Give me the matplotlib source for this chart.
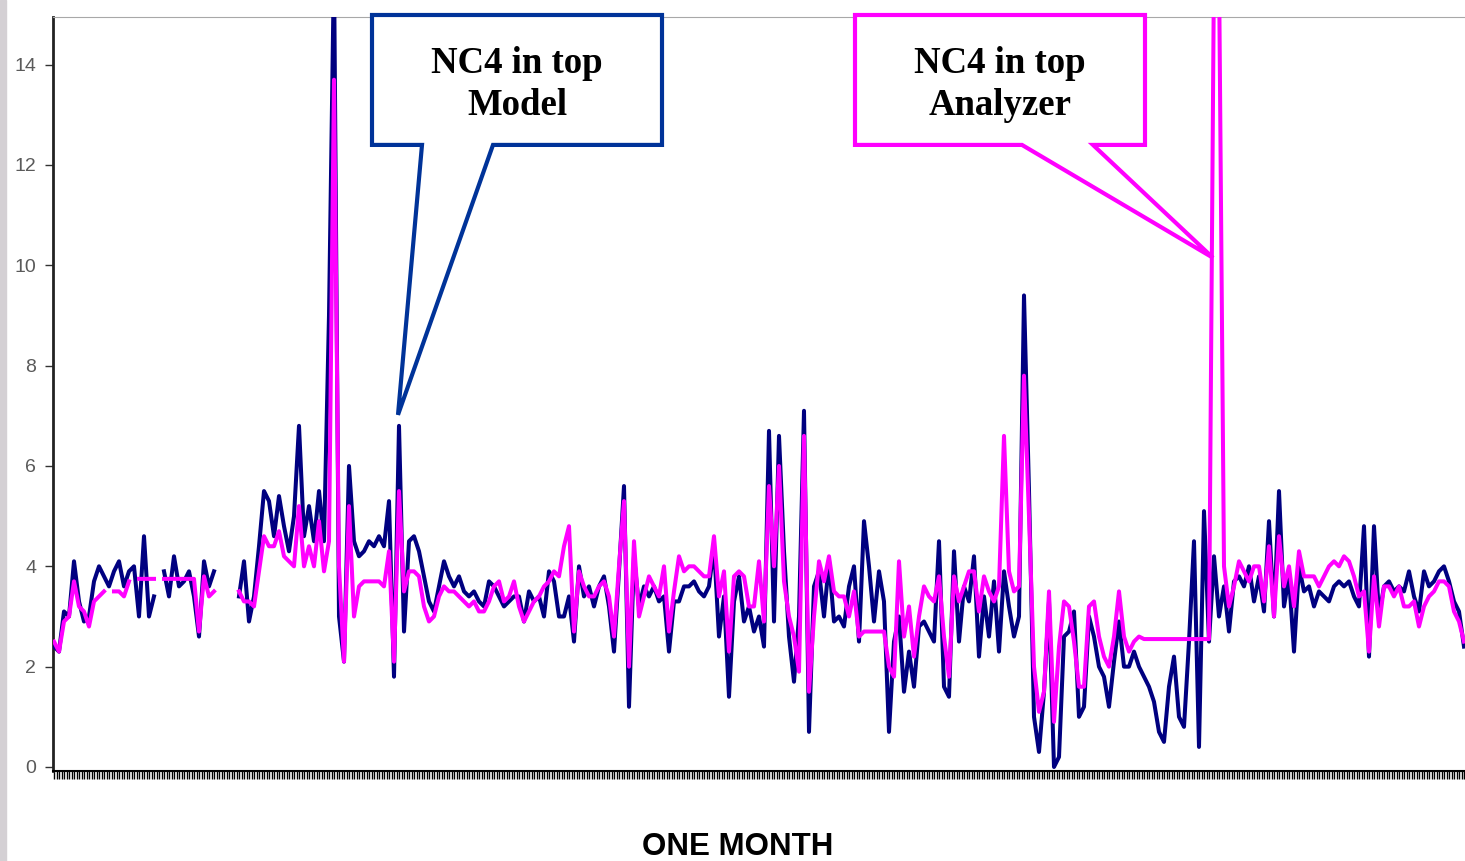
import numpy as np
import matplotlib.pyplot as plt
from matplotlib.patches import Polygon, Rectangle

nan = np.nan

# NC4 in top of column: model prediction vs. on-line analyzer, one month of samples
model = [
    2.4, 2.3, 3.1, 3.0, 4.1, 3.3, 2.9, 3.0, 3.7, 4.0,
    3.8, 3.6, 3.9, 4.1, 3.6, 3.9, 4.0, 3.0, 4.6, 3.0,
    3.4, nan, 3.9, 3.4, 4.2, 3.6, 3.7, 3.9, 3.4, 2.6,
    4.1, 3.6, 3.9, nan, nan, nan, nan, 3.4, 4.1, 2.9,
    3.4, 4.4, 5.5, 5.3, 4.6, 5.4, 4.8, 4.3, 5.0, 6.8,
    4.6, 5.2, 4.5, 5.5, 4.5, 9.0, 16.0, 3.0, 2.1, 6.0,
    4.5, 4.2, 4.3, 4.5, 4.4, 4.6, 4.4, 5.3, 1.8, 6.8,
    2.7, 4.5, 4.6, 4.3, 3.8, 3.3, 3.1, 3.6, 4.1, 3.8,
    3.6, 3.8, 3.5, 3.4, 3.5, 3.3, 3.2, 3.7, 3.6, 3.4,
    3.2, 3.3, 3.4, 3.4, 2.9, 3.5, 3.3, 3.4, 3.0, 3.9,
    3.7, 3.0, 3.0, 3.4, 2.5, 4.0, 3.4, 3.6, 3.2, 3.6,
    3.8, 3.2, 2.3, 3.9, 5.6, 1.2, 4.2, 3.2, 3.6, 3.4,
    3.6, 3.3, 3.4, 2.3, 3.3, 3.3, 3.6, 3.6, 3.7, 3.5,
    3.4, 3.6, 4.4, 2.6, 3.4, 1.4, 3.3, 3.8, 2.9, 3.2,
    2.7, 3.0, 2.4, 6.7, 2.9, 6.6, 4.3, 2.6, 1.7, 3.0,
    7.1, 0.7, 3.6, 3.9, 3.0, 4.1, 2.9, 3.0, 2.8, 3.6,
    4.0, 2.5, 4.9, 4.0, 2.9, 3.9, 3.3, 0.7, 2.5, 3.0,
    1.5, 2.3, 1.6, 2.8, 2.9, 2.7, 2.5, 4.5, 1.6, 1.4,
    4.3, 2.5, 3.6, 3.3, 4.2, 2.2, 3.4, 2.6, 3.7, 2.3,
    3.9, 3.2, 2.6, 3.0, 9.4, 5.5, 1.0, 0.3, 1.5, 3.3,
    0.0, 0.2, 2.6, 2.7, 3.1, 1.0, 1.2, 3.0, 2.6, 2.0,
    1.8, 1.2, 2.1, 2.9, 2.0, 2.0, 2.3, 2.0, 1.8, 1.6,
    1.3, 0.7, 0.5, 1.6, 2.2, 1.0, 0.8, 2.5, 4.5, 0.4,
    5.1, 2.5, 4.2, 3.0, 3.6, 2.7, 3.7, 3.8, 3.6, 4.0,
    3.3, 3.8, 3.1, 4.9, 3.0, 5.5, 3.2, 3.8, 2.3, 4.0,
    3.5, 3.6, 3.2, 3.5, 3.4, 3.3, 3.6, 3.7, 3.6, 3.7,
    3.4, 3.2, 4.8, 2.2, 4.8, 3.0, 3.6, 3.7, 3.5, 3.6,
    3.5, 3.9, 3.4, 3.1, 3.9, 3.6, 3.7, 3.9, 4.0, 3.7,
    3.3, 3.1, 2.4,
]

analyzer = [
    2.5, 2.3, 2.9, 3.0, 3.7, 3.2, 3.1, 2.8, 3.3, 3.4,
    3.5, nan, 3.5, 3.5, 3.4, 3.7, nan, 3.75, 3.75, 3.75,
    3.75, nan, 3.75, 3.75, 3.75, 3.75, 3.75, 3.75, 3.75, 2.7,
    3.8, 3.4, 3.5, nan, nan, nan, nan, 3.5, 3.3, 3.3,
    3.2, 3.9, 4.6, 4.4, 4.4, 4.7, 4.2, 4.1, 4.0, 5.2,
    4.0, 4.4, 4.0, 4.9, 3.9, 4.5, 13.7, 4.0, 2.1, 5.2,
    3.0, 3.6, 3.7, 3.7, 3.7, 3.7, 3.6, 4.3, 2.1, 5.5,
    3.5, 3.9, 3.9, 3.8, 3.2, 2.9, 3.0, 3.4, 3.6, 3.5,
    3.5, 3.4, 3.3, 3.2, 3.3, 3.1, 3.1, 3.3, 3.6, 3.7,
    3.3, 3.4, 3.7, 3.2, 2.9, 3.1, 3.3, 3.4, 3.6, 3.7,
    3.9, 3.8, 4.4, 4.8, 2.7, 3.9, 3.6, 3.4, 3.4, 3.6,
    3.7, 3.4, 2.6, 4.0, 5.3, 2.0, 4.5, 3.0, 3.4, 3.8,
    3.6, 3.4, 4.0, 2.7, 3.5, 4.2, 3.9, 4.0, 4.0, 3.9,
    3.8, 3.8, 4.6, 3.4, 3.9, 2.3, 3.8, 3.9, 3.8, 3.2,
    3.2, 4.1, 2.9, 5.6, 4.0, 6.0, 3.7, 3.0, 2.6, 1.9,
    6.6, 1.5, 3.0, 4.1, 3.7, 4.2, 3.5, 3.4, 3.4, 3.0,
    3.5, 2.6, 2.7, 2.7, 2.7, 2.7, 2.7, 2.0, 1.8, 4.1,
    2.6, 3.2, 2.2, 3.0, 3.6, 3.4, 3.3, 3.8, 2.6, 1.8,
    3.8, 3.3, 3.6, 3.9, 3.9, 3.1, 3.8, 3.5, 3.3, 3.6,
    6.6, 3.9, 3.5, 3.6, 7.8, 5.0, 2.0, 1.1, 1.5, 3.5,
    0.9, 2.4, 3.3, 3.2, 2.5, 1.6, 1.6, 3.2, 3.3, 2.6,
    2.2, 2.0, 2.6, 3.5, 2.6, 2.3, 2.5, 2.6, 2.55, 2.55,
    2.55, 2.55, 2.55, 2.55, 2.55, 2.55, 2.55, 2.55, 2.55, 2.55,
    2.55, 2.55, 16.0, 16.0, 4.0, 3.2, 3.6, 4.1, 3.9, 3.7,
    4.0, 4.0, 3.3, 4.4, 3.0, 4.6, 3.6, 4.0, 3.2, 4.3,
    3.8, 3.8, 3.8, 3.6, 3.8, 4.0, 4.1, 4.0, 4.2, 4.1,
    3.8, 3.4, 3.5, 2.3, 3.8, 2.8, 3.6, 3.6, 3.4, 3.6,
    3.2, 3.2, 3.3, 2.8, 3.2, 3.4, 3.5, 3.7, 3.7, 3.6,
    3.1, 2.9, 2.5,
]

yticks = [0, 2, 4, 6, 8, 10, 12, 14]
sample = np.arange(len(model))

W, H = 1465, 861
fig = plt.figure(figsize=(W / 100, H / 100), dpi=100)
fig.patches.append(Rectangle((0, 0), 6 / W, 1, transform=fig.transFigure,
                             color='#d4d0d4', zorder=0))

ax = fig.add_axes([53 / W, 1 - 771 / H, 1 - 53 / W, (771 - 17) / H])
ax.plot(sample, model, color='#000080', lw=2.9, zorder=3)
ax.plot(sample, analyzer, color='#ff00ff', lw=2.9, zorder=4)

ax.set_xlim(-0.2, 282.2)
ax.set_ylim(-0.08, 14.95)
ax.set_yticks(yticks)
ax.set_xticks(np.arange(0, 282.2, 0.5))
ax.tick_params(axis='x', length=6, width=1, color='black', labelbottom=False)
ax.tick_params(axis='y', length=6, width=1, color='#333333', pad=6,
               labelsize=14, labelcolor='#5a5a5a')
for lbl in ax.get_yticklabels():
    lbl.set_family('Liberation Sans')

ax.spines['right'].set_visible(False)
ax.spines['top'].set_color('#a8a8a8')
ax.spines['left'].set_color('#222222')
ax.spines['left'].set_linewidth(2)
ax.spines['bottom'].set_linewidth(1.5)


def callout(x0, x1, y0, y1, base, tip, color, text):
    pts = [(x0, y1), (x1, y1), (x1, y0), (base[1], y0), tip,
           (base[0], y0), (x0, y0)]
    ax.add_patch(Polygon(pts, closed=True, facecolor='white', edgecolor=color,
                         lw=3, joinstyle='miter', clip_on=False, zorder=6))
    ax.text((x0 + x1) / 2, y1 - (y1 - y0) * 0.535, text, ha='center', va='center',
            family='Liberation Serif', weight='bold', fontsize=26.5,
            linespacing=1.25, zorder=7, clip_on=False)


callout(63.6, 121.6, 12.40, 14.99, (73.6, 87.8), (68.8, 7.02),
        '#003399', 'NC4 in top\nModel')
callout(160.2, 218.2, 12.40, 14.99, (193.6, 207.8), (231.8, 10.15),
        '#ff00ff', 'NC4 in top\nAnalyzer')

fig.text(738 / W, 1 - 855 / H, 'ONE MONTH', ha='center', va='baseline',
         family='Liberation Sans', weight='bold', fontsize=22.5)

fig.savefig('out.png', dpi=100)
